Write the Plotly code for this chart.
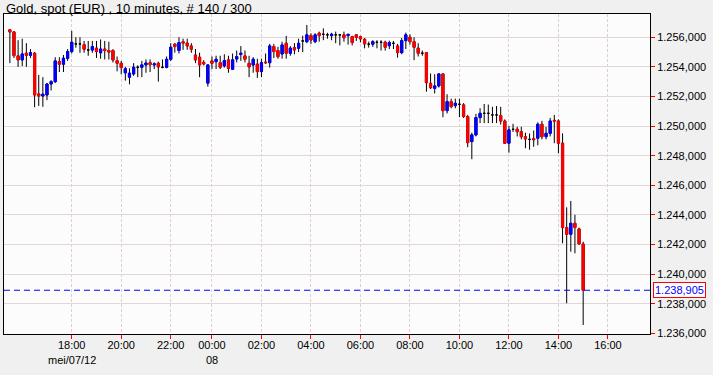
import pandas as pd
import plotly.graph_objects as go

# ---------------- data (EUR per ounce, 10-minute bars) ----------------
open_ = [1256.50, 1256.36, 1254.74, 1254.47, 1254.92, 1254.78, 1254.92, 1252.17, 1252.03, 1252.10,
         1252.84, 1253.00, 1254.35, 1254.18, 1254.58, 1255.03, 1255.55, 1255.55, 1255.50, 1255.14,
         1255.14, 1255.26, 1254.95, 1255.20, 1255.10, 1255.10, 1254.42, 1254.24, 1253.60, 1253.30,
         1253.52, 1253.97, 1253.97, 1254.13, 1254.28, 1254.13, 1254.24, 1253.97, 1253.97, 1254.51,
         1255.53, 1255.10, 1255.70, 1255.60, 1255.41, 1254.80, 1254.65, 1254.30, 1252.90, 1254.40,
         1254.35, 1254.28, 1254.06, 1254.47, 1253.84, 1254.53, 1254.83, 1254.74, 1254.24, 1254.13,
         1254.18, 1253.68, 1254.32, 1254.28, 1255.37, 1255.10, 1254.87, 1255.59, 1254.92, 1255.30,
         1255.26, 1255.75, 1255.70, 1256.11, 1255.70, 1256.27, 1256.20, 1256.16, 1256.11, 1256.16,
         1256.16, 1256.16, 1256.11, 1256.04, 1256.16, 1256.04, 1255.86, 1255.53, 1255.53, 1255.66,
         1255.66, 1255.66, 1255.43, 1255.59, 1255.41, 1254.96, 1255.77, 1256.00, 1255.70, 1255.26,
         1254.92, 1254.96, 1252.89, 1252.55, 1252.71, 1253.52, 1251.04, 1251.65, 1251.38, 1251.47,
         1251.43, 1250.64, 1248.95, 1249.40, 1250.57, 1250.86, 1250.86, 1250.75, 1250.75, 1250.70,
         1250.34, 1248.84, 1249.78, 1249.78, 1249.62, 1249.28, 1249.10, 1249.15, 1249.18, 1250.12,
         1249.28, 1249.51, 1250.38, 1250.34, 1248.84, 1243.14, 1242.69, 1243.43, 1243.05, 1242.03]
high = [1256.55, 1256.40, 1255.80, 1255.90, 1255.60, 1255.20, 1255.00, 1253.45, 1253.30, 1252.90,
        1253.10, 1254.65, 1254.65, 1254.80, 1255.20, 1256.43, 1256.00, 1256.00, 1255.75, 1255.75,
        1255.75, 1255.75, 1255.85, 1255.75, 1255.70, 1255.20, 1254.70, 1254.40, 1254.00, 1253.90,
        1254.25, 1254.10, 1254.40, 1254.50, 1254.50, 1254.30, 1254.35, 1254.50, 1254.70, 1255.60,
        1255.60, 1256.00, 1255.90, 1255.90, 1255.60, 1255.20, 1254.95, 1254.45, 1254.15, 1254.70,
        1254.75, 1254.75, 1254.85, 1254.75, 1254.90, 1255.10, 1255.40, 1255.10, 1254.75, 1254.65,
        1254.55, 1254.55, 1254.90, 1255.55, 1255.55, 1255.35, 1255.70, 1256.09, 1255.40, 1255.60,
        1255.90, 1256.10, 1256.83, 1256.27, 1256.27, 1256.38, 1256.60, 1256.30, 1256.30, 1256.38,
        1256.20, 1256.38, 1256.20, 1256.10, 1256.20, 1256.10, 1255.95, 1255.70, 1255.80, 1255.80,
        1255.80, 1255.77, 1255.77, 1255.75, 1255.55, 1255.95, 1256.31, 1256.20, 1256.00, 1255.60,
        1255.10, 1255.00, 1253.55, 1253.50, 1253.55, 1253.55, 1252.15, 1251.85, 1251.85, 1251.85,
        1251.55, 1250.75, 1249.55, 1250.82, 1251.20, 1251.49, 1251.45, 1251.30, 1251.35, 1251.30,
        1250.45, 1250.00, 1250.15, 1249.95, 1249.95, 1249.55, 1249.50, 1249.70, 1250.25, 1250.35,
        1249.95, 1250.55, 1250.75, 1250.45, 1249.51, 1244.51, 1244.94, 1244.00, 1243.14, 1242.19]
low = [1254.25, 1254.60, 1254.00, 1254.05, 1254.00, 1254.60, 1251.27, 1251.36, 1251.30, 1251.75,
       1252.40, 1252.90, 1253.65, 1253.65, 1254.40, 1254.90, 1255.30, 1254.95, 1254.95, 1254.75,
       1254.95, 1254.60, 1254.55, 1254.50, 1254.50, 1254.30, 1253.70, 1253.50, 1253.07, 1252.82,
       1253.40, 1253.30, 1253.30, 1253.60, 1253.65, 1253.85, 1253.00, 1253.90, 1253.90, 1254.40,
       1254.96, 1254.90, 1255.15, 1255.15, 1254.95, 1254.25, 1253.30, 1254.10, 1252.66, 1253.85,
       1253.85, 1253.85, 1253.95, 1253.60, 1253.80, 1254.30, 1254.40, 1254.30, 1253.30, 1253.60,
       1253.25, 1253.30, 1254.20, 1253.95, 1254.60, 1254.55, 1254.55, 1254.55, 1254.75, 1254.85,
       1255.00, 1255.00, 1255.60, 1255.55, 1255.60, 1255.70, 1255.80, 1255.90, 1255.80, 1255.60,
       1255.45, 1255.70, 1255.50, 1255.45, 1255.75, 1255.65, 1255.25, 1255.30, 1255.35, 1255.25,
       1255.10, 1255.10, 1255.20, 1255.20, 1254.62, 1254.85, 1255.20, 1255.50, 1254.45, 1254.70,
       1254.75, 1252.32, 1252.50, 1252.20, 1252.60, 1250.60, 1250.85, 1251.20, 1251.20, 1250.60,
       1250.55, 1248.57, 1247.76, 1249.30, 1250.20, 1250.20, 1250.20, 1250.20, 1250.20, 1250.10,
       1248.80, 1248.20, 1249.60, 1249.30, 1249.10, 1248.50, 1248.40, 1248.60, 1248.70, 1249.10,
       1249.10, 1249.30, 1248.84, 1248.16, 1242.08, 1238.03, 1241.51, 1241.40, 1242.00, 1236.56]
close = [1256.36, 1254.76, 1254.47, 1254.87, 1254.78, 1254.96, 1252.10, 1252.03, 1252.15, 1252.84,
         1253.00, 1254.40, 1254.18, 1254.58, 1255.03, 1255.66, 1255.55, 1255.55, 1255.19, 1255.14,
         1255.37, 1255.03, 1255.20, 1255.10, 1255.00, 1254.47, 1254.24, 1253.95, 1253.87, 1253.57,
         1253.97, 1253.97, 1254.13, 1254.26, 1254.15, 1254.20, 1254.00, 1253.97, 1254.51, 1255.32,
         1255.37, 1255.64, 1255.60, 1255.41, 1255.19, 1254.47, 1254.13, 1254.20, 1254.13, 1254.24,
         1254.51, 1253.97, 1254.42, 1253.90, 1254.47, 1254.69, 1254.92, 1254.51, 1254.00, 1254.51,
         1253.68, 1254.28, 1254.28, 1255.41, 1255.03, 1254.69, 1255.48, 1254.92, 1255.26, 1255.14,
         1255.59, 1255.75, 1256.16, 1255.82, 1256.16, 1256.11, 1256.20, 1256.16, 1256.20, 1256.16,
         1256.16, 1255.97, 1256.20, 1255.64, 1256.00, 1255.89, 1255.55, 1255.53, 1255.70, 1255.66,
         1255.66, 1255.32, 1255.64, 1255.59, 1254.96, 1255.77, 1256.16, 1255.70, 1255.32, 1254.92,
         1254.92, 1252.93, 1252.59, 1252.71, 1253.52, 1251.04, 1251.65, 1251.31, 1251.54, 1251.47,
         1250.64, 1248.88, 1249.40, 1250.57, 1250.86, 1250.86, 1250.86, 1250.75, 1250.75, 1250.34,
         1248.84, 1249.74, 1249.78, 1249.62, 1249.28, 1249.13, 1249.10, 1249.08, 1250.12, 1249.28,
         1249.51, 1250.34, 1250.34, 1248.84, 1243.14, 1242.69, 1243.43, 1243.14, 1242.03, 1238.905]

session_start = "2012-05-07 15:30"
first_tick = "2012-05-07 18:00"
axis_end = "2012-05-08 17:30"
missing_bars = ["2012-05-07 23:00", "2012-05-07 23:10"]
day_labels = {"2012-05-07": "mei/07/12", "2012-05-08": "08"}
title_text = "Gold, spot (EUR) , 10 minutes, # 140 / 300"

# ---------------- bar index <-> time ----------------
all_times = pd.date_range(session_start, axis_end, freq="10min")
all_times = all_times[~all_times.isin(pd.to_datetime(missing_bars))]
n = len(close)
idx = list(range(n))

tickvals, ticktext = [], []
for i, t in enumerate(all_times):
    if t >= pd.Timestamp(first_tick) and t.minute == 0 and t.hour % 2 == 0:
        tickvals.append(i)
        ticktext.append(t.strftime("%H:%M"))

FONT = "Liberation Sans, Arial, sans-serif"
fig = go.Figure()

# black wicks (and black doji marks)
fig.add_trace(go.Candlestick(
    x=idx, open=open_, high=high, low=low, close=close,
    increasing=dict(line=dict(color="black", width=1), fillcolor="black"),
    decreasing=dict(line=dict(color="black", width=1), fillcolor="black"),
    whiskerwidth=0, hoverinfo="skip", showlegend=False))

# coloured bodies on top
bo, bh, bl, bc = [], [], [], []
for o, c in zip(open_, close):
    if o == c:
        bo.append(None); bh.append(None); bl.append(None); bc.append(None)
    else:
        bo.append(o); bc.append(c); bh.append(max(o, c)); bl.append(min(o, c))
fig.add_trace(go.Candlestick(
    x=idx, open=bo, high=bh, low=bl, close=bc,
    increasing=dict(line=dict(color="#0000ff", width=1), fillcolor="#0000ff"),
    decreasing=dict(line=dict(color="#ff0000", width=1), fillcolor="#ff0000"),
    whiskerwidth=0, hoverinfo="skip", showlegend=False))

last = close[-1]
last_txt = f"{last:,.3f}".replace(",", "X").replace(".", ",").replace("X", ".")
fig.add_hline(y=last, line=dict(color="#0000ff", width=1, dash="6px,4px"))
fig.add_annotation(x=1, xref="paper", y=last, yref="y", xanchor="left", yanchor="middle",
                   xshift=3, text=last_txt,
                   showarrow=False, font=dict(family=FONT, size=11, color="#0000ff"),
                   bordercolor="#ff0000", borderwidth=1, borderpad=1, bgcolor="#ffffff")

# second row of date labels under the first tick of each day
seen = set()
for v in tickvals:
    d = all_times[v].strftime("%Y-%m-%d")
    if d in day_labels and d not in seen:
        seen.add(d)
        fig.add_annotation(x=v, xref="x", y=0, yref="paper", yanchor="middle", yshift=-26,
                           text=day_labels[d], showarrow=False,
                           font=dict(family=FONT, size=11, color="black"))

fig.add_annotation(x=0, xref="paper", y=1, yref="paper", xanchor="left", yanchor="middle",
                   text=title_text, showarrow=False, yshift=6,
                   font=dict(family=FONT, size=13, color="black"))

fig.update_layout(
    width=713, height=375,
    margin=dict(l=4, r=63, t=14, b=41, autoexpand=False),
    paper_bgcolor="#f0f0f0", plot_bgcolor="#fcfcfc",
    separators=",.",
    font=dict(family=FONT, size=11, color="black"),
    showlegend=False,
    boxgap=0.25,
    xaxis=dict(range=[-1.42, 155.2], tickmode="array", tickvals=tickvals, ticktext=ticktext,
               ticks="outside", ticklen=4, tickcolor="#ff0000", tickwidth=1, automargin=False,
               ticklabelstandoff=-3,
               showline=True, linecolor="black", linewidth=1, mirror=True,
               showgrid=True, gridcolor="#dcd0d4", griddash="3px,2px", zeroline=False,
               rangeslider=dict(visible=False), tickfont=dict(size=11)),
    yaxis=dict(range=[1235.95, 1257.57], side="right", dtick=2, tick0=0, tickformat=",.3f",
               ticks="outside", ticklen=4, tickcolor="#ff0000", tickwidth=1, automargin=False,
               showline=True, linecolor="black", linewidth=1, mirror=True,
               showgrid=True, gridcolor="#e2d6d8", zeroline=False, tickfont=dict(size=11)),
)

fig.write_html("out.html", config={"displayModeBar": False},
               post_script="document.body.style.margin='0';document.body.style.background='#f0f0f0';")
